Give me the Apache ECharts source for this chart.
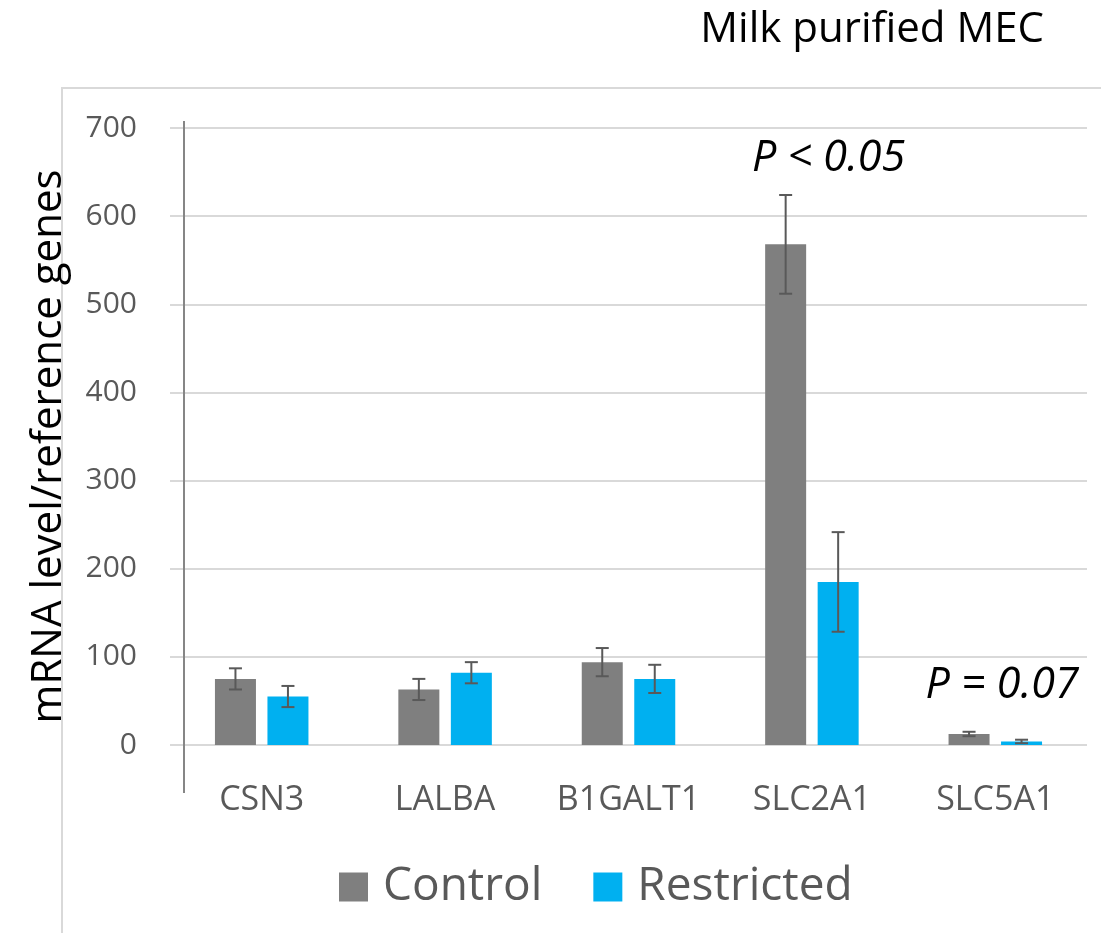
<!DOCTYPE html>
<html>
<head>
<meta charset="utf-8">
<script src="https://cdn.jsdelivr.net/npm/echarts@6/dist/echarts.min.js"></script>
<style>
html,body{margin:0;padding:0;background:#fff;}
#chart{width:1101px;height:933px;}
</style>
</head>
<body>
<div id="chart"></div>
<script>
const categories = ['CSN3', 'LALBA', 'B1GALT1', 'SLC2A1', 'SLC5A1'];
const controlMean = [75, 63, 94, 568, 12.5];
const controlErr = [12, 12, 16, 56, 2.5];
const restrictedMean = [55, 82, 75, 185, 4];
const restrictedErr = [12, 12, 16, 56.5, 2];
const yTicks = [0, 100, 200, 300, 400, 500, 600, 700];
const annotations = [
  { category: 'SLC2A1', value: 665, text: 'P < 0.05', dx: 43 },
  { category: 'SLC5A1', value: 67, text: 'P = 0.07', dx: 33 }
];

const FONT = 'Open Sans';
const BAR_W = 41;
const BAR_GAP_PX = 11.5;
const OFFSET = (BAR_W + BAR_GAP_PX) / 2;

function errData(mean, err) {
  return mean.map((m, i) => [i, m - err[i], m + err[i]]);
}

function errRender(offset) {
  return function (params, api) {
    const i = api.value(0);
    const lo = api.coord([i, api.value(1)]);
    const hi = api.coord([i, api.value(2)]);
    const x = lo[0] + offset;
    const cap = 6.5;
    const style = { stroke: '#595959', lineWidth: 2 };
    return {
      type: 'group',
      children: [
        { type: 'line', shape: { x1: x, y1: lo[1], x2: x, y2: hi[1] }, style },
        { type: 'line', shape: { x1: x - cap, y1: lo[1], x2: x + cap, y2: lo[1] }, style },
        { type: 'line', shape: { x1: x - cap, y1: hi[1], x2: x + cap, y2: hi[1] }, style }
      ]
    };
  };
}

const chart = echarts.init(document.getElementById('chart'));
chart.setOption({
  animation: false,
  textStyle: { fontFamily: FONT },
  title: {
    text: 'Milk purified MEC',
    right: 57,
    top: 9,
    padding: 0,
    textStyle: { fontFamily: FONT, fontSize: 42, fontWeight: 'normal', color: '#000' }
  },
  graphic: [
    { type: 'rect', z: -1, shape: { x: 62, y: 88, width: 1100, height: 900 },
      style: { fill: 'none', stroke: '#d9d9d9', lineWidth: 2 } },
    { type: 'line', z: 10, shape: { x1: 184, y1: 121, x2: 184, y2: 793 },
      style: { stroke: '#868686', lineWidth: 2 } }
  ],
  legend: {
    data: ['Control', 'Restricted'],
    left: 334,
    top: 859,
    icon: 'rect',
    itemWidth: 29,
    itemHeight: 29,
    itemGap: 51,
    textStyle: { fontFamily: FONT, fontSize: 46, color: '#595959', padding: [0, 0, 0, 10] }
  },
  grid: { left: 170, right: 14, top: 128, bottom: 188, containLabel: false },
  xAxis: {
    type: 'category',
    data: categories,
    axisLine: { show: false },
    axisTick: { show: false },
    axisLabel: { interval: 0, fontFamily: FONT, fontSize: 34, color: '#595959', margin: 38 }
  },
  yAxis: {
    type: 'value',
    min: yTicks[0],
    max: yTicks[yTicks.length - 1],
    interval: 100,
    name: 'mRNA level/reference genes',
    nameLocation: 'middle',
    nameRotate: 90,
    nameGap: 100,
    nameTextStyle: { fontFamily: FONT, fontSize: 42, color: '#000', padding: [0, 20, 0, 0] },
    axisLine: { show: false },
    axisTick: { show: false },
    axisLabel: { fontFamily: FONT, fontSize: 30, color: '#595959', margin: 33 },
    splitLine: { lineStyle: { color: '#d9d9d9', width: 2 } }
  },
  series: [
    {
      name: 'Control', type: 'bar', data: controlMean,
      barWidth: BAR_W, barGap: (BAR_GAP_PX / BAR_W * 100) + '%',
      itemStyle: { color: '#7f7f7f' },
      markPoint: {
        symbol: 'circle', symbolSize: 0,
        data: annotations.map(a => ({
          coord: [a.category, a.value],
          label: { show: true, position: 'inside', offset: [a.dx, 0], formatter: a.text,
            fontFamily: FONT, fontSize: 43, fontStyle: 'italic', color: '#000' }
        }))
      }
    },
    {
      name: 'Restricted', type: 'bar', data: restrictedMean,
      barWidth: BAR_W,
      itemStyle: { color: '#00b0f0' }
    },
    {
      type: 'custom', name: 'ControlErr', z: 5,
      renderItem: errRender(-OFFSET),
      data: errData(controlMean, controlErr)
    },
    {
      type: 'custom', name: 'RestrictedErr', z: 5,
      renderItem: errRender(OFFSET),
      data: errData(restrictedMean, restrictedErr)
    }
  ]
});
</script>
</body>
</html>
